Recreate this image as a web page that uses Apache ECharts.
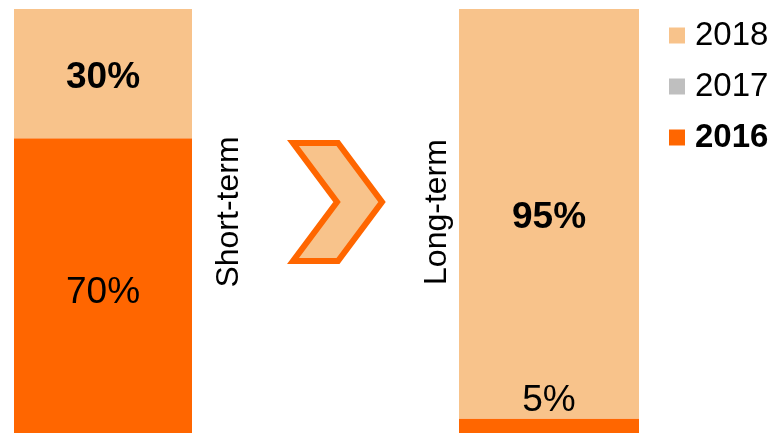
<!DOCTYPE html>
<html>
<head>
<meta charset="utf-8">
<script src="https://cdn.jsdelivr.net/npm/echarts@6/dist/echarts.min.js"></script>
<style>
  html, body { margin: 0; padding: 0; background: #ffffff; overflow: hidden; }
  #chart { width: 769px; height: 445px; }
</style>
</head>
<body>
<div id="chart"></div>
<script>
// Share of horizon, by year (percent)
const periods = ['Short-term', 'Long-term'];
const share2016 = [70, 5];
const share2017 = [null, null];
const share2018 = [30, 95];
const legendYears = ['2018', '2017', '2016'];

const FONT = 'Liberation Sans, Arial, Helvetica, sans-serif';
const C2016 = '#FF6600';
const C2017 = '#BFBFBF';
const C2018 = '#F8C38B';

const chart = echarts.init(document.getElementById('chart'), null, { renderer: 'canvas' });

// Bars run past the lower edge of the visible area
const grids = [
  { left: 14, top: 9, width: 178, height: 431 },
  { left: 459, top: 9, width: 180, height: 431 }
];

function xAx(i) {
  return { gridIndex: i, type: 'category', data: [periods[i]], show: false };
}
function yAx(i) {
  return { gridIndex: i, type: 'value', min: 0, max: 100, show: false };
}

const series = [];
periods.forEach((p, i) => {
  series.push({
    name: '2016', type: 'bar', stack: 'p' + i, xAxisIndex: i, yAxisIndex: i,
    barWidth: '100%', data: [share2016[i]],
    itemStyle: { color: C2016 },
    label: {
      show: true,
      position: i === 0 ? 'inside' : 'top',
      distance: 3, offset: [0, 4],
      formatter: '{c}%', color: '#000', fontSize: 37, fontFamily: FONT, fontWeight: 'normal'
    }
  });
  series.push({
    name: '2017', type: 'bar', stack: 'p' + i, xAxisIndex: i, yAxisIndex: i,
    barWidth: '100%', data: [share2017[i]],
    itemStyle: { color: C2017 }
  });
  series.push({
    name: '2018', type: 'bar', stack: 'p' + i, xAxisIndex: i, yAxisIndex: i,
    barWidth: '100%', data: [share2018[i]],
    itemStyle: { color: C2018 },
    label: {
      show: true, position: 'inside', offset: [0, 4],
      formatter: '{c}%', color: '#000', fontSize: 37, fontFamily: FONT, fontWeight: 'bold'
    }
  });
});

const option = {
  backgroundColor: '#ffffff',
  animation: false,
  grid: grids,
  xAxis: [xAx(0), xAx(1)],
  yAxis: [yAx(0), yAx(1)],
  legend: {
    orient: 'vertical', left: 664, top: 14,
    itemWidth: 16, itemHeight: 16, itemGap: 18,
    icon: 'rect',
    textStyle: { fontSize: 33, fontFamily: FONT, color: '#000', padding: [0, 0, 0, 5] },
    data: legendYears.map(y => y === '2016'
      ? { name: y, textStyle: { fontWeight: 'bold' } }
      : { name: y })
  },
  graphic: [
    {
      type: 'polygon',
      shape: { points: [[293, 143], [338, 143], [382, 202], [338, 261], [293, 261], [337, 202]] },
      style: { fill: C2018, stroke: C2016, lineWidth: 6, lineJoin: 'miter' }
    },
    {
      type: 'text', x: 229, y: 212, rotation: Math.PI / 2,
      style: { text: periods[0], font: '32px ' + FONT, fill: '#000', align: 'center', verticalAlign: 'middle' }
    },
    {
      type: 'text', x: 437, y: 212, rotation: Math.PI / 2,
      style: { text: periods[1], font: '32px ' + FONT, fill: '#000', align: 'center', verticalAlign: 'middle' }
    }
  ],
  series: series
};

chart.setOption(option);
</script>
</body>
</html>
